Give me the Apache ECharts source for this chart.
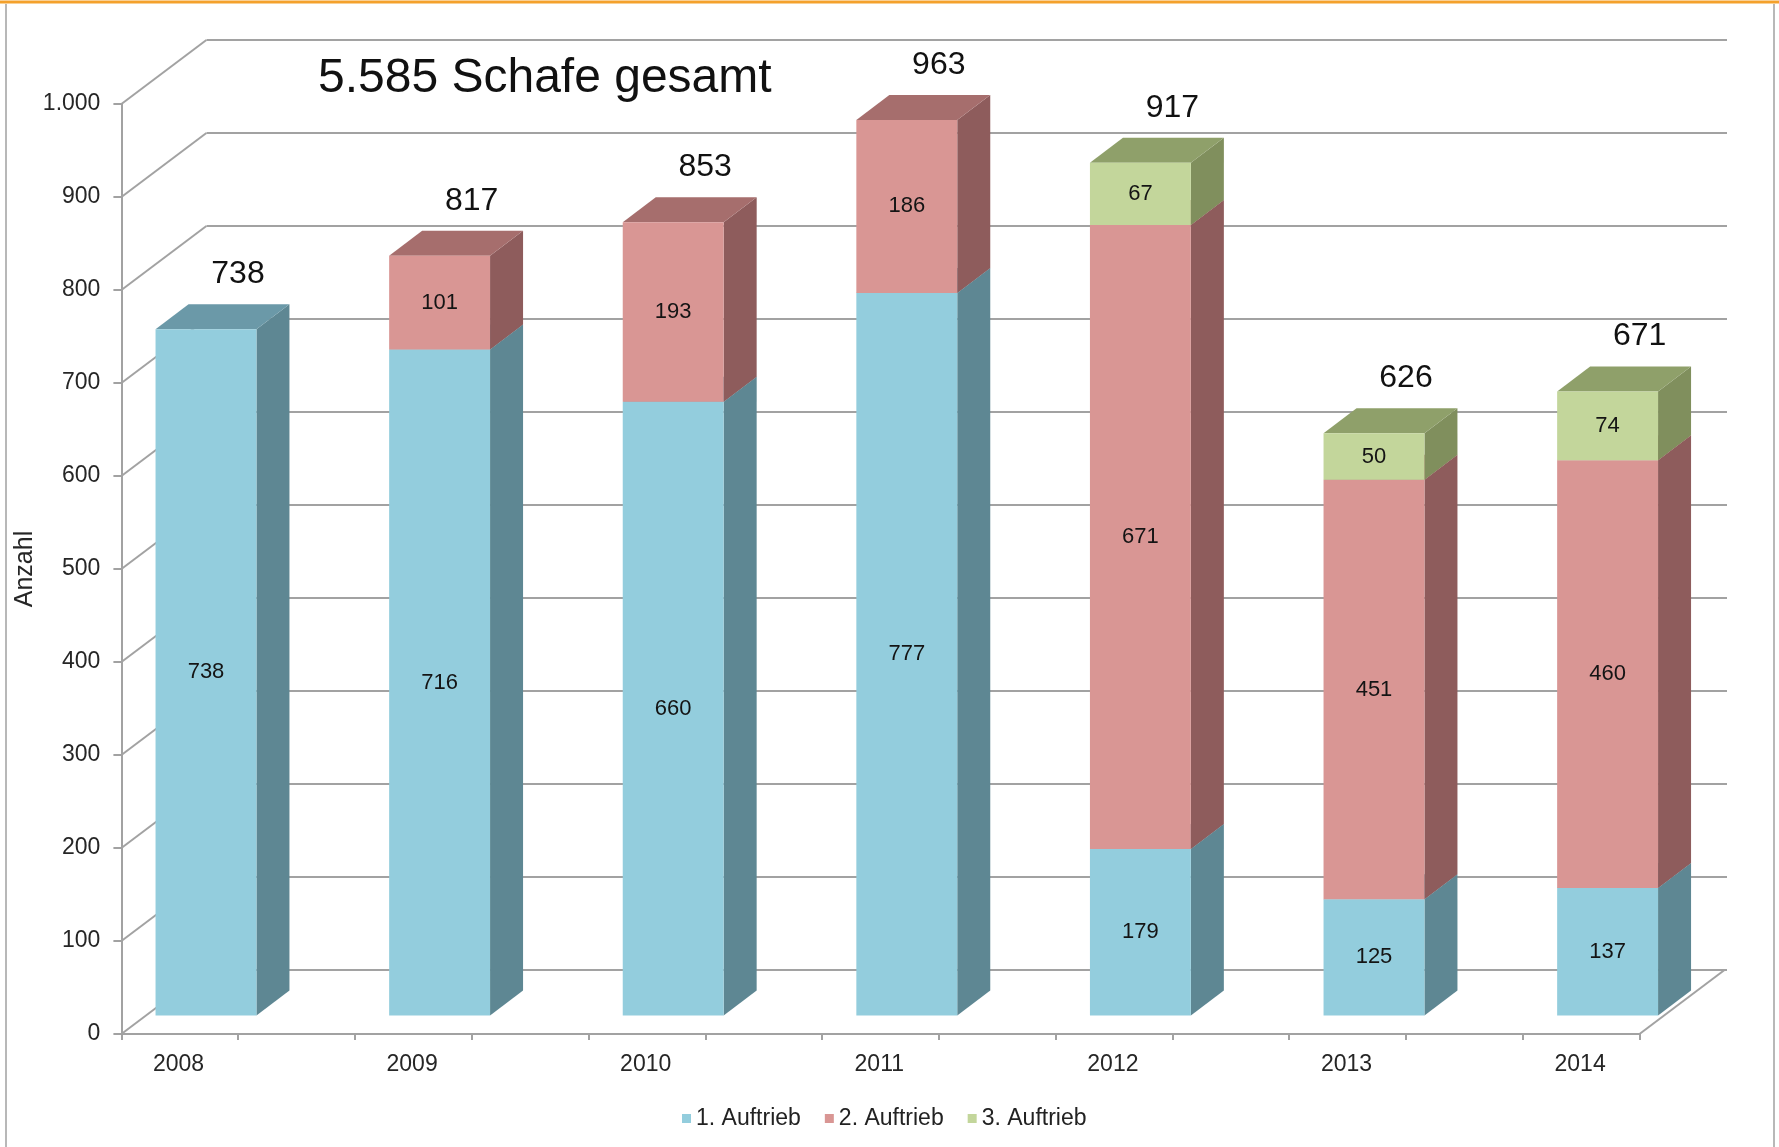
<!DOCTYPE html>
<html>
<head>
<meta charset="utf-8">
<script src="https://cdn.jsdelivr.net/npm/echarts@6/dist/echarts.min.js"></script>
<style>
html,body{margin:0;padding:0;background:#fff;}
#chart{width:1779px;height:1147px;}
</style>
</head>
<body>
<div id="chart"></div>
<script>
// ---- data ----
const categories = ['2008', '2009', '2010', '2011', '2012', '2013', '2014'];
const auftrieb1 = [738, 716, 660, 777, 179, 125, 137];
const auftrieb2 = [null, 101, 193, 186, 671, 451, 460];
const auftrieb3 = [null, null, null, null, 67, 50, 74];
const totals = [738, 817, 853, 963, 917, 626, 671];
const seriesNames = ['1. Auftrieb', '2. Auftrieb', '3. Auftrieb'];
const yTicks = [0, 100, 200, 300, 400, 500, 600, 700, 800, 900, 1000];
const titleText = '5.585 Schafe gesamt';
const yAxisName = 'Anzahl';

// ---- styling ----
const FONT = "'Liberation Sans', Arial, Helvetica, sans-serif";
const GRID_COLOR = '#a2a2a2';
const WALL_DEPTH = [85, -64];   // front edge -> back wall
const BAR_DEPTH = [33, -25];    // bar front face -> bar back face
const BAR_FRAC = 0.432;
const FRONT_TICK_STEPS = 13;
const palette = [
  { front: '#93CDDD', side: '#5E8793', top: '#6B99A8' },
  { front: '#D99694', side: '#8E5C5C', top: '#A66E6D' },
  { front: '#C3D69B', side: '#808F5D', top: '#8FA06A' }
];
const fmtThousands = v => String(v).replace(/\B(?=(\d{3})+(?!\d))/g, '.');

// stacked table for the library
const layers = [auftrieb1, auftrieb2, auftrieb3];
const stackData = layers.map((arr, s) => arr.map((v, i) => {
  if (v == null) return [i, null, null, null];
  let base = 0;
  for (let k = 0; k < s; k++) base += (layers[k][i] || 0);
  return [i, base, base + v, v];
}));

function renderSegment(s) {
  return function (params, api) {
    const val = api.value(3);
    if (val == null || isNaN(val)) return;
    const idx = api.value(0);
    const pB = api.coord([idx, api.value(1)]);
    const pT = api.coord([idx, api.value(2)]);
    const bw = api.size([1, 0])[0] * BAR_FRAC;
    const x0 = pB[0] - bw / 2, x1 = pB[0] + bw / 2;
    const yb = pB[1], yt = pT[1];
    const [dx, dy] = BAR_DEPTH;
    const c = palette[s];
    return {
      type: 'group',
      children: [
        { type: 'polygon', shape: { points: [[x1, yb], [x1 + dx, yb + dy], [x1 + dx, yt + dy], [x1, yt]] },
          style: { fill: c.side } },
        { type: 'polygon', shape: { points: [[x0, yt], [x1, yt], [x1 + dx, yt + dy], [x0 + dx, yt + dy]] },
          style: { fill: c.top } },
        { type: 'rect', shape: { x: x0, y: yt, width: bw, height: yb - yt },
          style: { fill: c.front } },
        { type: 'text', z2: 10, style: { text: String(val), x: (x0 + x1) / 2, y: (yt + yb) / 2,
          align: 'center', verticalAlign: 'middle', fill: '#141414', font: '22px ' + FONT } }
      ]
    };
  };
}

const barSeries = seriesNames.map((name, s) => ({
  name: name,
  type: 'custom',
  coordinateSystem: 'cartesian2d',
  xAxisIndex: 2, yAxisIndex: 2,
  itemStyle: { color: palette[s].front },
  encode: { x: 0, y: 2 },
  clip: false,
  z: 3 + s,
  renderItem: renderSegment(s),
  data: stackData[s]
}));

const chart = echarts.init(document.getElementById('chart'));
const option = {
  backgroundColor: '#ffffff',
  animation: false,
  title: {
    text: titleText, left: 313, top: 50,
    textStyle: { fontFamily: FONT, fontSize: 48, fontWeight: 'normal', color: '#111' }
  },
  legend: {
    data: seriesNames, left: 677, top: 1102, icon: 'rect',
    itemWidth: 9, itemHeight: 9, itemGap: 24, selectedMode: false,
    textStyle: { fontFamily: FONT, fontSize: 23, color: '#222' }
  },
  graphic: [
    { type: 'line', shape: { x1: 0, y1: 2, x2: 1779, y2: 2 }, style: { stroke: '#F4A12C', lineWidth: 3 } },
    { type: 'line', shape: { x1: 6, y1: 4, x2: 6, y2: 1147 }, style: { stroke: '#b8b8b8', lineWidth: 2 } },
    { type: 'line', shape: { x1: 1774, y1: 4, x2: 1774, y2: 1147 }, style: { stroke: '#b8b8b8', lineWidth: 2 } }
  ],
  grid: [
    { left: 121.4, right: 139.5, top: 104, bottom: 113 },   // front plane (axes)
    { left: 206.5, right: 52, top: 40, bottom: 177 },       // back wall
    { left: 89.2, right: 54.6, top: 85.5, bottom: 131.5 },  // bar front faces
    { left: 61.7, right: 82.1, top: 104, bottom: 113 }      // category labels
  ],
  xAxis: [
    { gridIndex: 0, type: 'value', min: 0, max: FRONT_TICK_STEPS, interval: 1,
      axisLine: { show: true, lineStyle: { color: GRID_COLOR, width: 2 } },
      axisTick: { show: true, length: 6, lineStyle: { color: GRID_COLOR, width: 2 } },
      axisLabel: { show: false }, splitLine: { show: false } },
    { gridIndex: 1, type: 'category', data: categories, show: false },
    { gridIndex: 2, type: 'category', data: categories, show: false },
    { gridIndex: 3, type: 'category', data: categories,
      axisLine: { show: false }, axisTick: { show: false }, splitLine: { show: false },
      axisLabel: { margin: 19, fontFamily: FONT, fontSize: 23, color: '#262626' } }
  ],
  yAxis: [
    { gridIndex: 0, type: 'value', min: 0, max: 1000, interval: 100,
      name: yAxisName, nameLocation: 'middle', nameGap: 84, nameRotate: 90, nameMoveOverlap: false,
      nameTextStyle: { fontFamily: FONT, fontSize: 25, color: '#262626' },
      axisLine: { show: true, lineStyle: { color: GRID_COLOR, width: 2 } },
      axisTick: { show: true, length: 8, lineStyle: { color: GRID_COLOR, width: 2 } },
      axisLabel: { margin: 21, fontFamily: FONT, fontSize: 23, color: '#262626', formatter: fmtThousands },
      splitLine: { show: false } },
    { gridIndex: 1, type: 'value', min: 0, max: 1000, interval: 100,
      axisLine: { show: false }, axisTick: { show: false }, axisLabel: { show: false },
      splitLine: { show: true, lineStyle: { color: GRID_COLOR, width: 2 } } },
    { gridIndex: 2, type: 'value', min: 0, max: 1000, show: false },
    { gridIndex: 3, type: 'value', min: 0, max: 1000, show: false }
  ],
  series: [
    { // left wall lines + floor right edge
      type: 'custom', coordinateSystem: 'cartesian2d', xAxisIndex: 0, yAxisIndex: 0,
      clip: false, z: 1, silent: true, encode: { x: 0, y: 1 },
      data: yTicks.map(v => [0, v]).concat([[FRONT_TICK_STEPS, 0]]),
      renderItem: function (params, api) {
        const p = api.coord([api.value(0), api.value(1)]);
        return { type: 'line', shape: { x1: p[0], y1: p[1], x2: p[0] + WALL_DEPTH[0], y2: p[1] + WALL_DEPTH[1] },
          style: { stroke: GRID_COLOR, lineWidth: 2 } };
      }
    }
  ].concat(barSeries).concat([
    { // totals above bars
      name: 'Gesamt', type: 'custom', coordinateSystem: 'cartesian2d', xAxisIndex: 2, yAxisIndex: 2,
      clip: false, z: 10, silent: true, encode: { x: 0, y: 1 },
      data: totals.map((v, i) => [i, v]),
      renderItem: function (params, api) {
        const p = api.coord([api.value(0), api.value(1)]);
        return { type: 'text', style: { text: String(api.value(1)), x: p[0] + 32, y: p[1] + BAR_DEPTH[1] - 30,
          align: 'center', verticalAlign: 'middle', fill: '#111', font: '32px ' + FONT } };
      }
    }
  ])
};
chart.setOption(option);
</script>
</body>
</html>
